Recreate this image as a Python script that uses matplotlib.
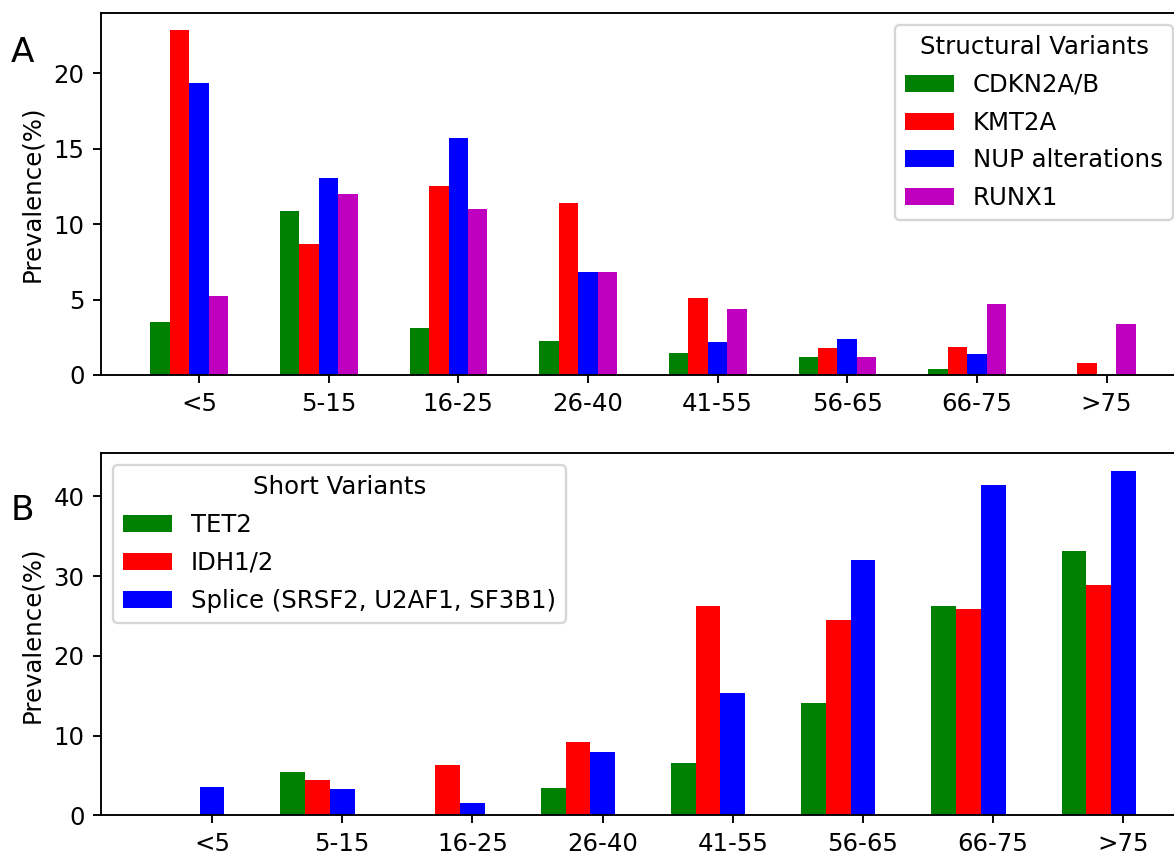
import numpy as np
import matplotlib
matplotlib.use("Agg")
import matplotlib.pyplot as plt

# age groups
groups = ["<5", "5-15", "16-25", "26-40", "41-55", "56-65", "66-75", ">75"]

# A - structural variants
cdkn2a = [3.5, 10.85, 3.1, 2.27, 1.44, 1.21, 0.42, 0.0]
kmt2a = [22.85, 8.7, 12.5, 11.4, 5.12, 1.81, 1.85, 0.81]
nup = [19.33, 13.03, 15.7, 6.8, 2.19, 2.4, 1.37, 0.0]
runx1 = [5.25, 12.0, 10.97, 6.8, 4.37, 1.21, 4.68, 3.4]

# B - short variants
tet2 = [0.0, 5.38, 0.0, 3.38, 6.55, 14.1, 26.28, 33.17]
idh = [0.0, 4.38, 6.3, 9.14, 26.28, 24.53, 25.82, 28.86]
splice = [3.5, 3.25, 1.58, 7.92, 15.31, 31.99, 41.38, 43.25]

plt.rcParams['font.size'] = 10.3
plt.rcParams['legend.labelspacing'] = 0.57

dpi = 170
fig = plt.figure(figsize=(1174 / dpi, 856 / dpi), dpi=dpi)

ind = np.arange(len(groups))

# panel A
axA = fig.add_axes([101 / 1174, (856 - 375) / 856, 1084 / 1174, 362 / 856])
w = 0.15
axA.bar(ind - 2 * w, cdkn2a, w, color='g', label='CDKN2A/B')
axA.bar(ind - w, kmt2a, w, color='r', label='KMT2A')
axA.bar(ind, nup, w, color='b', label='NUP alterations')
axA.bar(ind + w, runx1, w, color='m', label='RUNX1')
axA.set_xticks(ind)
axA.set_xticklabels(groups)
axA.set_ylabel('Prevalence(%)')
axA.legend(title='Structural Variants', loc='upper right')

# panel B
axB = fig.add_axes([101 / 1174, (856 - 815.3) / 856, 1084 / 1174, 362 / 856])
w = 0.19
axB.bar(ind - 2 * w, tet2, w, color='g', label='TET2')
axB.bar(ind - w, idh, w, color='r', label='IDH1/2')
axB.bar(ind, splice, w, color='b', label='Splice (SRSF2, U2AF1, SF3B1)')
axB.set_xticks(ind)
axB.set_xticklabels(groups)
axB.set_ylabel('Prevalence(%)')
axB.legend(title='Short Variants', loc='upper left')

fig.text(22 / 1174, 1 - 52 / 856, 'A', fontsize=14.5, ha='center', va='center')
fig.text(22 / 1174, 1 - 510 / 856, 'B', fontsize=14.5, ha='center', va='center')

fig.savefig('out.png', dpi=dpi)
